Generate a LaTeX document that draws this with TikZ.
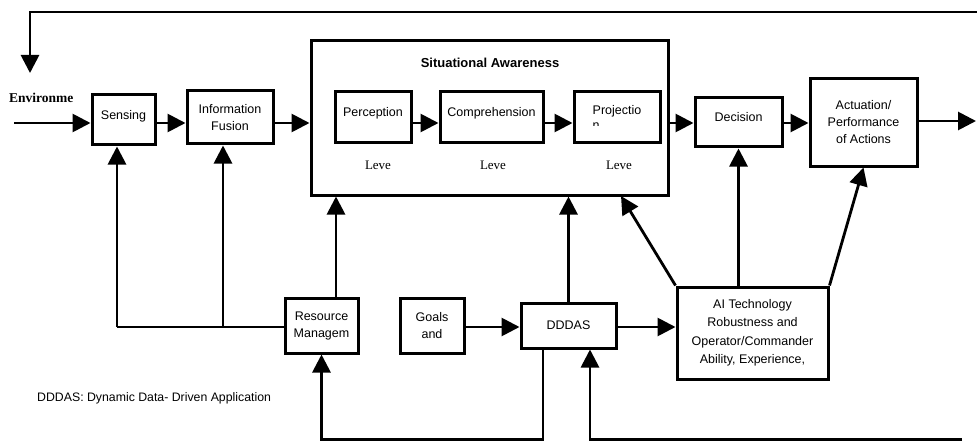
\documentclass[tikz,border=0pt]{standalone}
\usepackage{fontspec}
\setmainfont{Liberation Sans}
\newfontfamily\serifb{Liberation Serif}
\usetikzlibrary{arrows.meta}
\begin{document}
\begin{tikzpicture}[x=1pt,y=-1pt,
  box/.style={draw, line width=3pt, inner sep=0pt, align=center, font=\fontsize{12.5}{17}\selectfont},
  raised/.style={text depth=11pt},
  arr/.style={-{Triangle[length=18pt,width=18pt]}, line width=2.8pt},
  ln/.style={line width=2.8pt},
  lbl/.style={font=\fontsize{12.5}{17}\selectfont, inner sep=0pt}]
\useasboundingbox[fill=white] (0,0) rectangle (977,441);

% main boxes
\node[box, raised, minimum width=63pt, minimum height=50pt] (sens) at (123.5,120) {Sensing};
\node[box, minimum width=86pt, minimum height=53pt] (if) at (230,117.5) {Information\\Fusion};
\node[box, minimum width=357pt, minimum height=154pt] (sa) at (489.5,118) {};
\node[lbl, font=\fontsize{13}{17}\selectfont\bfseries] (satitle) at (490,63) {Situational Awareness};
\node[box, raised, minimum width=76pt, minimum height=51pt] (perc) at (373,117.5) {Perception};
\node[box, raised, minimum width=103pt, minimum height=51pt] (comp) at (491.5,117.5) {Comprehension};
\node[box, minimum width=86pt, minimum height=51pt, align=left, font=\fontsize{12.5}{15}\selectfont] (proj) at (617,117.5) {Projectio\\n};
\fill[white] (586,126.5) rectangle (610,141);
\node[lbl, font=\fontsize{13}{15}\selectfont\serifb] (lv1) at (378,165) {Leve};
\node[lbl, font=\fontsize{13}{15}\selectfont\serifb] (lv2) at (493,165) {Leve};
\node[lbl, font=\fontsize{13}{15}\selectfont\serifb] (lv3) at (619,165) {Leve};
\node[box, raised, minimum width=87pt, minimum height=49pt] (dec) at (738.5,122.5) {Decision};
\node[box, minimum width=107pt, minimum height=87pt] (act) at (863.5,122.5) {Actuation/\\Performance\\of Actions};

% bottom boxes
\node[box, minimum width=73pt, minimum height=55pt] (rm) at (321.5,325.5) {Resource\\Managem};
\node[box, minimum width=64pt, minimum height=55pt] (goals) at (432,325.5) {Goals\\and};
\node[box, minimum width=95pt, minimum height=45pt] (dd) at (568.5,325.5) {DDDAS};
\node[box, minimum width=151pt, minimum height=92pt, font=\fontsize{12.5}{18.5}\selectfont] (ai) at (752.5,333) {AI Technology\\Robustness and\\Operator/Commander\\Ability, Experience,};

% texts
\node[lbl, anchor=west, font=\fontsize{13.5}{15}\selectfont\serifb\bfseries] (env) at (9,98) {Environme};
\node[lbl, anchor=west, font=\fontsize{12.3}{15}\selectfont] (note) at (37,398) {DDDAS: Dynamic Data- Driven Application};

% helper coordinates
\coordinate (mainrow) at (0,123);
\coordinate (botrow) at (0,327);
\coordinate (in) at (14,123);
\coordinate (topR) at (977,12);
\coordinate (topL) at (30,12);
\coordinate (envtip) at (30,73);
\coordinate (out) at (976,121);
\coordinate (sv) at (117,327);
\coordinate (iv) at (223,327);
\coordinate (rmx) at (336,0);
\coordinate (saP) at (621,196);
\coordinate (lx) at (543,439.5);
\coordinate (rx) at (962,439.5);
\coordinate (ry) at (590,439.5);

% connectors
\draw[arr] (topR) -- (topL) -- (envtip);
\draw[arr] (in) -- (in -| sens.west);
\draw[arr] (sens.east |- mainrow) -- (if.west |- mainrow);
\draw[arr] (if.east |- mainrow) -- (sa.west |- mainrow);
\draw[arr] (perc.east |- mainrow) -- (comp.west |- mainrow);
\draw[arr] (comp.east |- mainrow) -- (proj.west |- mainrow);
\draw[arr] (sa.east |- mainrow) -- (dec.west |- mainrow);
\draw[arr] (dec.east |- mainrow) -- (act.west |- mainrow);
\draw[arr] (act.east |- out) -- (out);

\draw[ln] (rm.west |- botrow) -- (sv);
\draw[arr] (sv) -- (sv |- sens.south);
\draw[arr] (iv) -- (iv |- if.south);
\draw[arr] (rm.north -| rmx) -- (sa.south -| rmx);
\draw[arr] (goals.east |- botrow) -- (dd.west |- botrow);
\draw[arr] (dd.east |- botrow) -- (ai.west |- botrow);
\draw[arr] (dd.north) -- (dd.north |- sa.south);
\draw[arr] (ai.north west) -- (saP);
\draw[arr] (ai.north -| dec.south) -- (dec.south);
\draw[arr] (ai.north east) -- (act.south);
\draw[arr] (dd.south -| lx) -- (lx) -| (rm.south);
\draw[arr] (rx) -- (ry) -- (ry |- dd.south);
\end{tikzpicture}
\end{document}
